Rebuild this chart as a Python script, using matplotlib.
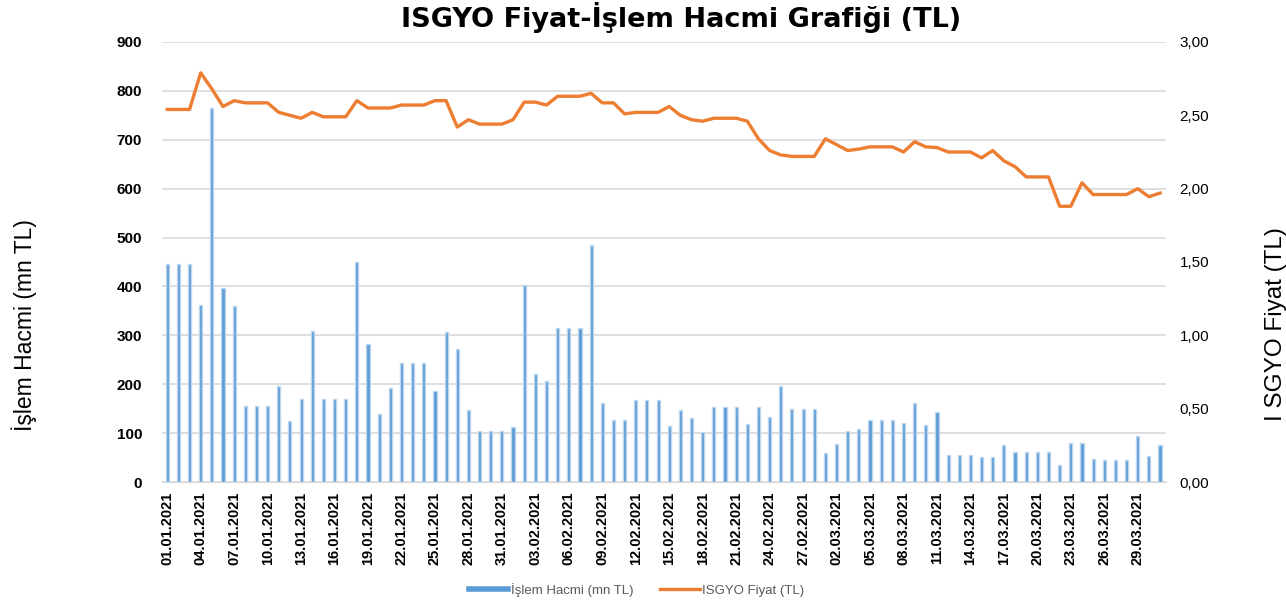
import numpy as np
import pandas as pd
import matplotlib
matplotlib.use('Agg')
import matplotlib.pyplot as plt
from matplotlib.lines import Line2D
from matplotlib.ticker import FuncFormatter

plt.rcParams['font.family'] = ['Liberation Sans', 'DejaVu Sans']

# daily data 01.01.2021 - 31.03.2021
dates = pd.date_range('2021-01-01', '2021-03-31', freq='D')
date_labels = [d.strftime('%d.%m.%Y') for d in dates]

hacim = [446, 446, 446, 363, 765, 397, 359, 156, 156, 156,
         196, 124, 169, 308, 169, 169, 169, 451, 283, 140,
         193, 244, 244, 244, 186, 306, 272, 147, 104, 104,
         104, 113, 403, 220, 206, 314, 314, 314, 485, 162,
         126, 126, 167, 167, 167, 114, 147, 131, 103, 153,
         153, 153, 118, 153, 133, 196, 150, 150, 150, 59,
         78, 104, 109, 126, 126, 126, 120, 162, 116, 144,
         55, 55, 55, 51, 51, 75, 61, 61, 61, 61,
         34, 79, 79, 48, 45, 45, 45, 95, 54, 75]

fiyat = [2.54, 2.54, 2.54, 2.79, 2.68, 2.56, 2.60, 2.585, 2.585, 2.585,
         2.52, 2.50, 2.48, 2.52, 2.49, 2.49, 2.49, 2.60, 2.55, 2.55,
         2.55, 2.57, 2.57, 2.57, 2.60, 2.60, 2.42, 2.47, 2.44, 2.44,
         2.44, 2.47, 2.59, 2.59, 2.57, 2.63, 2.63, 2.63, 2.65, 2.585,
         2.585, 2.51, 2.52, 2.52, 2.52, 2.56, 2.50, 2.47, 2.46, 2.48,
         2.48, 2.48, 2.46, 2.34, 2.26, 2.23, 2.22, 2.22, 2.22, 2.34,
         2.30, 2.26, 2.27, 2.285, 2.285, 2.285, 2.25, 2.32, 2.285, 2.28,
         2.25, 2.25, 2.25, 2.21, 2.26, 2.19, 2.15, 2.08, 2.08, 2.08,
         1.88, 1.88, 2.04, 1.96, 1.96, 1.96, 1.96, 2.00, 1.945, 1.97]

x = np.arange(len(dates))

fig = plt.figure(figsize=(12.86, 6.05), dpi=100)
ax = fig.add_axes([0.1257, 0.2033, 0.7807, 0.7273])
ax2 = ax.twinx()

# volume bars
ax.bar(x, hacim, width=0.28, color='#5B9BD5', edgecolor='#BDD7EE', linewidth=1.0, zorder=2)
ax.set_ylim(0, 900)
ax.set_yticks(np.arange(0, 901, 100))
ax.set_xlim(-0.5, len(x) - 0.5)
ax.grid(axis='y', color='#D9D9D9', linewidth=1.2)
ax.set_axisbelow(True)
ax.set_xticks(x[::3])
ax.set_xticklabels(date_labels[::3], rotation=90, fontsize=10.5, fontweight='bold')
ax.tick_params(axis='x', length=0, pad=7)
ax.tick_params(axis='y', length=0, pad=14, labelsize=11)
for t in ax.get_yticklabels():
    t.set_fontweight('bold')
ax.set_ylabel('İşlem Hacmi (mn TL)', fontsize=16.5)
ax.yaxis.set_label_coords(-0.124, 0.357)

# price line
ax2.plot(x, fiyat, color='#ED7D31', linewidth=2.4, zorder=3)
ax2.set_ylim(0, 3)
ax2.set_yticks(np.arange(0, 3.01, 0.5))
ax2.yaxis.set_major_formatter(FuncFormatter(lambda v, p: f'{v:.2f}'.replace('.', ',')))
ax2.tick_params(axis='y', length=0, pad=10, labelsize=11)
ax2.set_ylabel('I SGYO Fiyat (TL)', fontsize=17.5)
ax2.yaxis.set_label_coords(1.099, 0.36)

for a in (ax, ax2):
    for s in a.spines.values():
        s.set_visible(False)
ax.spines['bottom'].set_visible(True)
ax.spines['bottom'].set_color('#D9D9D9')

fig.suptitle('ISGYO Fiyat-İşlem Hacmi Grafiği (TL)', fontsize=19.5, fontweight='bold',
             family=['DejaVu Sans'], x=0.53, y=0.997)

handles = [Line2D([], [], color='#5B9BD5', linewidth=4),
           Line2D([], [], color='#ED7D31', linewidth=2.4)]
fig.legend(handles, ['İşlem Hacmi (mn TL)', 'ISGYO Fiyat (TL)'], loc='center',
           bbox_to_anchor=(0.495, 0.025), ncol=2, frameon=False, fontsize=9.5,
           labelcolor='#595959', handlelength=3.0, handletextpad=0.2, columnspacing=2.0)

fig.savefig('out.png', dpi=100)
